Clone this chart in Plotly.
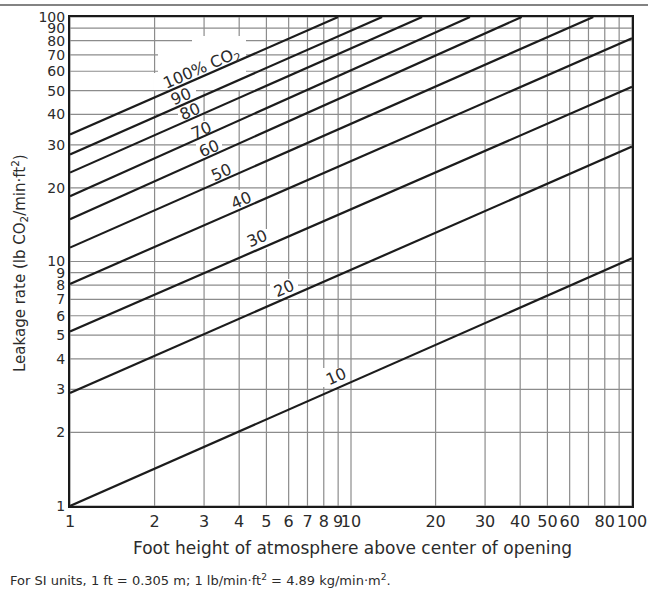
import math
import plotly.graph_objects as go

# CO2 concentration curves: leakage rate vs. height, read as two end points each
co2_pct = [10, 20, 30, 40, 50, 60, 70, 80, 90, 100]
height_start = [1, 1, 1, 1, 1, 1, 1, 1, 1, 1]
rate_start = [1.0, 2.9, 5.17, 8.1, 11.4, 14.9, 18.5, 23.1, 27.4, 33.1]
height_end = [100, 100, 100, 100, 72.8, 40.5, 26.5, 17.9, 12.9, 9.0]
rate_end = [10.3, 29.5, 51.8, 81.8, 100, 100, 100, 100, 100, 100]

# curve label texts and where they sit (data units)
curve_labels = ["10", "20", "30", "40", "50", "60", "70", "80", "90", "100% CO<sub>2</sub>"]
label_height = [8.84, 5.77, 4.62, 4.05, 3.44, 3.12, 2.92, 2.67, 2.48, 2.95]
label_rate = [3.38, 7.73, 12.4, 17.8, 23.2, 29.0, 34.5, 40.9, 47.1, 61.8]

# axis ticks and grid
x_tickvals = [1, 2, 3, 4, 5, 6, 7, 8, 9, 10, 20, 30, 40, 50, 60, 80, 100]
y_tickvals = [1, 2, 3, 4, 5, 6, 7, 8, 9, 10, 20, 30, 40, 50, 60, 70, 80, 90, 100]
grid_vals = [1, 2, 3, 4, 5, 6, 7, 8, 9, 10, 20, 30, 40, 50, 60, 70, 80, 90, 100]

W, H = 651, 593
ML, MR, MT, MB = 70, 19, 17, 87
PW, PH = W - ML - MR, H - MT - MB

FONT = "DejaVu Sans"
INK = "#2b2b2b"


def px_to_paper_x(px):
    return (px - ML) / PW


def px_to_paper_y(py):
    return (H - MB - py) / PH


fig = go.Figure()

for pct, x0, y0, x1, y1 in zip(co2_pct, height_start, rate_start, height_end, rate_end):
    fig.add_trace(go.Scatter(
        x=[x0, x1], y=[y0, y1], mode="lines", name=f"{pct}%",
        line=dict(color="#1c1c1c", width=2.2), showlegend=False, hoverinfo="skip",
    ))

shapes = []
# grid lines, drawn under everything
for v in grid_vals:
    shapes.append(dict(type="line", layer="below", xref="x", yref="paper",
                       x0=v, x1=v, y0=0, y1=1,
                       line=dict(color="#8c8c8c", width=1.2)))
    shapes.append(dict(type="line", layer="below", xref="paper", yref="y",
                       x0=0, x1=1, y0=v, y1=v,
                       line=dict(color="#8c8c8c", width=1.2)))

# white patches that clear the grid behind the curve labels
clear_boxes = [
    (192, 36, 246, 50), (158, 50, 246, 73), (154, 73, 246, 90),
    (168, 88, 196, 107), (178, 103, 203, 121), (187, 121, 214, 140),
    (196, 139, 222, 158), (207, 163, 234, 182), (227, 190, 254, 210),
    (243, 229, 270, 249), (270, 279, 298, 299), (322, 368, 350, 387),
]
for bx0, by0, bx1, by1 in clear_boxes:
    shapes.append(dict(type="rect", layer="below", xref="paper", yref="paper",
                       x0=px_to_paper_x(bx0), x1=px_to_paper_x(bx1),
                       y0=px_to_paper_y(by1), y1=px_to_paper_y(by0),
                       fillcolor="white", line=dict(width=0)))

# thin rule across the top of the page
shapes.append(dict(type="line", xref="paper", yref="paper",
                   x0=px_to_paper_x(0), x1=px_to_paper_x(648),
                   y0=px_to_paper_y(5), y1=px_to_paper_y(5),
                   line=dict(color="#5a5a5a", width=1.5)))

annotations = []
for txt, hx, ry in zip(curve_labels, label_height, label_rate):
    annotations.append(dict(
        x=math.log10(hx), y=math.log10(ry), xref="x", yref="y", text=txt,
        xanchor="center", yanchor="middle",
        showarrow=False, textangle=-23.5, font=dict(family=FONT, size=16, color=INK),
    ))

annotations.append(dict(
    x=px_to_paper_x(19), y=px_to_paper_y(263), xref="paper", yref="paper",
    xanchor="center", yanchor="middle",
    text="Leakage rate (lb CO<sub>2</sub>/min·ft<sup>2</sup>)", textangle=-90,
    showarrow=False, font=dict(family=FONT, size=15, color=INK),
))
annotations.append(dict(
    x=px_to_paper_x(352), y=px_to_paper_y(548), xref="paper", yref="paper",
    xanchor="center", yanchor="middle",
    text="Foot height of atmosphere above center of opening",
    showarrow=False, font=dict(family=FONT, size=17, color=INK),
))
annotations.append(dict(
    x=px_to_paper_x(8), y=px_to_paper_y(580), xref="paper", yref="paper",
    xanchor="left", yanchor="middle",
    text="For SI units, 1 ft = 0.305 m; 1 lb/min·ft<sup>2</sup> = 4.89 kg/min·m<sup>2</sup>.",
    showarrow=False, font=dict(family=FONT, size=13, color=INK),
))

axis_common = dict(
    type="log", range=[0, 2], showgrid=False, zeroline=False,
    showline=True, mirror=True, linecolor="#1a1a1a", linewidth=2,
    ticks="", tickmode="array", tickangle=0,
)

fig.update_layout(
    width=W, height=H,
    margin=dict(l=ML, r=MR, t=MT, b=MB, autoexpand=False),
    paper_bgcolor="white", plot_bgcolor="white",
    xaxis=dict(axis_common, tickvals=x_tickvals, ticktext=[str(v) for v in x_tickvals],
               tickfont=dict(family=FONT, size=16, color=INK)),
    yaxis=dict(axis_common, tickvals=y_tickvals, ticktext=[str(v) for v in y_tickvals],
               tickfont=dict(family=FONT, size=14, color=INK)),
    shapes=shapes, annotations=annotations, showlegend=False,
)

fig.write_html("out.html")
